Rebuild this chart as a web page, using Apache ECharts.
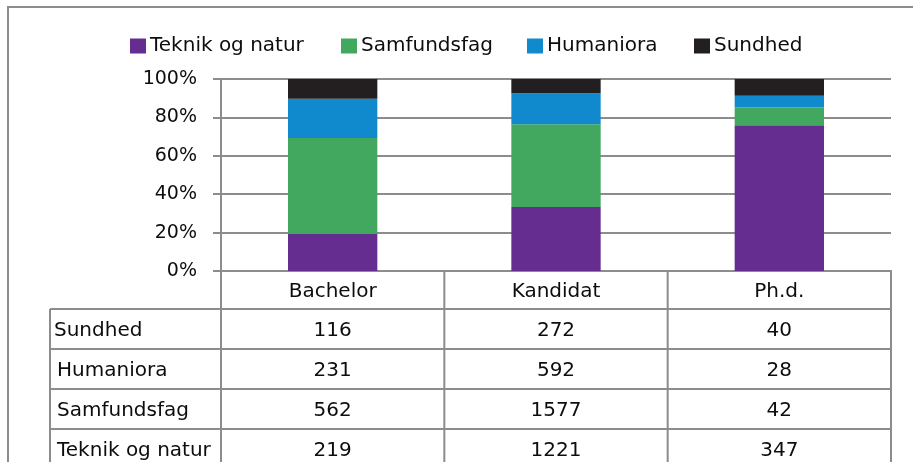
<!DOCTYPE html>
<html>
<head>
<meta charset="utf-8">
<script src="https://cdn.jsdelivr.net/npm/echarts@6/dist/echarts.min.js"></script>
<style>
  html, body { margin: 0; padding: 0; background: #ffffff; }
  #chart { width: 913px; height: 462px; }
</style>
</head>
<body>
<div id="chart"></div>
<script>
// Graduates by level and main field (counts)
const categories = ['Bachelor', 'Kandidat', 'Ph.d.'];
const seriesNames = ['Teknik og natur', 'Samfundsfag', 'Humaniora', 'Sundhed'];
const teknikOgNatur = [219, 1221, 347];
const samfundsfag = [562, 1577, 42];
const humaniora = [231, 592, 28];
const sundhed = [116, 272, 40];

// Rows of the data table, top to bottom
const tableRows = [
  ['Sundhed', sundhed],
  ['Humaniora', humaniora],
  ['Samfundsfag', samfundsfag],
  ['Teknik og natur', teknikOgNatur]
];

const colors = ['#662d91', '#43a85f', '#118acd', '#231f20'];
const FONT = '"DejaVu Sans", sans-serif';
const LINE = '#8c8c8c';
const TEXT = '#0d0d0d';

const counts = [teknikOgNatur, samfundsfag, humaniora, sundhed];
const totals = categories.map((_, i) => counts.reduce((s, arr) => s + arr[i], 0));
const share = arr => arr.map((v, i) => v / totals[i] * 100);

const chart = echarts.init(document.getElementById('chart'), null, { renderer: 'canvas' });

// One legend per entry so each item sits at its own spot
const legendLefts = [130, 341, 527, 694];
const legends = seriesNames.map((name, i) => ({
  data: [name],
  left: legendLefts[i],
  top: 36,
  padding: 0,
  icon: 'rect',
  itemWidth: 16,
  itemHeight: 15,
  itemGap: 0,
  selectedMode: false,
  textStyle: { fontFamily: FONT, fontSize: 20, color: TEXT, padding: [0, 0, 0, -1] }
}));

chart.setOption({
  animation: false,
  color: colors,
  legend: legends,
  grid: { left: 221, right: 22, top: 79, bottom: 191, containLabel: false },
  xAxis: {
    type: 'category',
    data: categories,
    axisLine: { show: true, lineStyle: { color: LINE, width: 2 } },
    axisTick: { show: false },
    axisLabel: {
      fontFamily: FONT, fontSize: 20, color: TEXT,
      margin: 21, verticalAlign: 'middle'
    },
    splitLine: { show: false }
  },
  yAxis: {
    type: 'value',
    min: 0,
    max: 100,
    interval: 20,
    axisLine: { show: true, lineStyle: { color: LINE, width: 2 } },
    axisTick: { show: true, length: 8, lineStyle: { color: LINE, width: 2 } },
    axisLabel: {
      formatter: '{value}%', fontFamily: FONT, fontSize: 19, color: TEXT, margin: 24,
      padding: [5, 0, 0, 0]
    },
    splitLine: { show: true, lineStyle: { color: LINE, width: 2 } }
  },
  series: seriesNames.map((name, i) => ({
    name: name,
    type: 'bar',
    stack: 'total',
    barWidth: '40%',
    data: share(counts[i]),
    emphasis: { disabled: true }
  }))
});

// Data table under the plot, aligned to the category bands
const centers = categories.map(c => chart.convertToPixel({ xAxisIndex: 0 }, c));
const band = centers[1] - centers[0];
const bounds = [centers[0] - band / 2].concat(centers.map(c => c + band / 2));
const axisY = chart.convertToPixel({ yAxisIndex: 0 }, 0);
const rowTop = 309;
const rowH = 40;
const tableLeft = 50;
const bottom = 462;

const g = [];
const line = (x1, y1, x2, y2) => g.push({
  type: 'line', silent: true,
  shape: { x1, y1, x2, y2 },
  style: { stroke: LINE, lineWidth: 2 }
});

// outer frame of the chart
line(7, 7, 913, 7);
line(8, 6, 8, bottom);

// column dividers
bounds.forEach(x => line(x, axisY, x, bottom));
line(tableLeft, rowTop, tableLeft, bottom);
// row dividers
for (let r = 0; r < tableRows.length; r++) {
  line(tableLeft, rowTop + r * rowH, bounds[bounds.length - 1], rowTop + r * rowH);
}

const labelX = [54, 57, 57, 57];
tableRows.forEach(([label, values], r) => {
  const cy = rowTop + r * rowH + rowH / 2 + 2;
  g.push({
    type: 'text', silent: true,
    style: {
      text: label, x: labelX[r], y: cy,
      fontFamily: FONT, fontSize: 20, fill: TEXT,
      textAlign: 'left', textVerticalAlign: 'middle'
    }
  });
  values.forEach((v, c) => {
    g.push({
      type: 'text', silent: true,
      style: {
        text: String(v), x: centers[c], y: cy,
        fontFamily: FONT, fontSize: 20, fill: TEXT,
        textAlign: 'center', textVerticalAlign: 'middle'
      }
    });
  });
});

chart.setOption({ graphic: g });
</script>
</body>
</html>
